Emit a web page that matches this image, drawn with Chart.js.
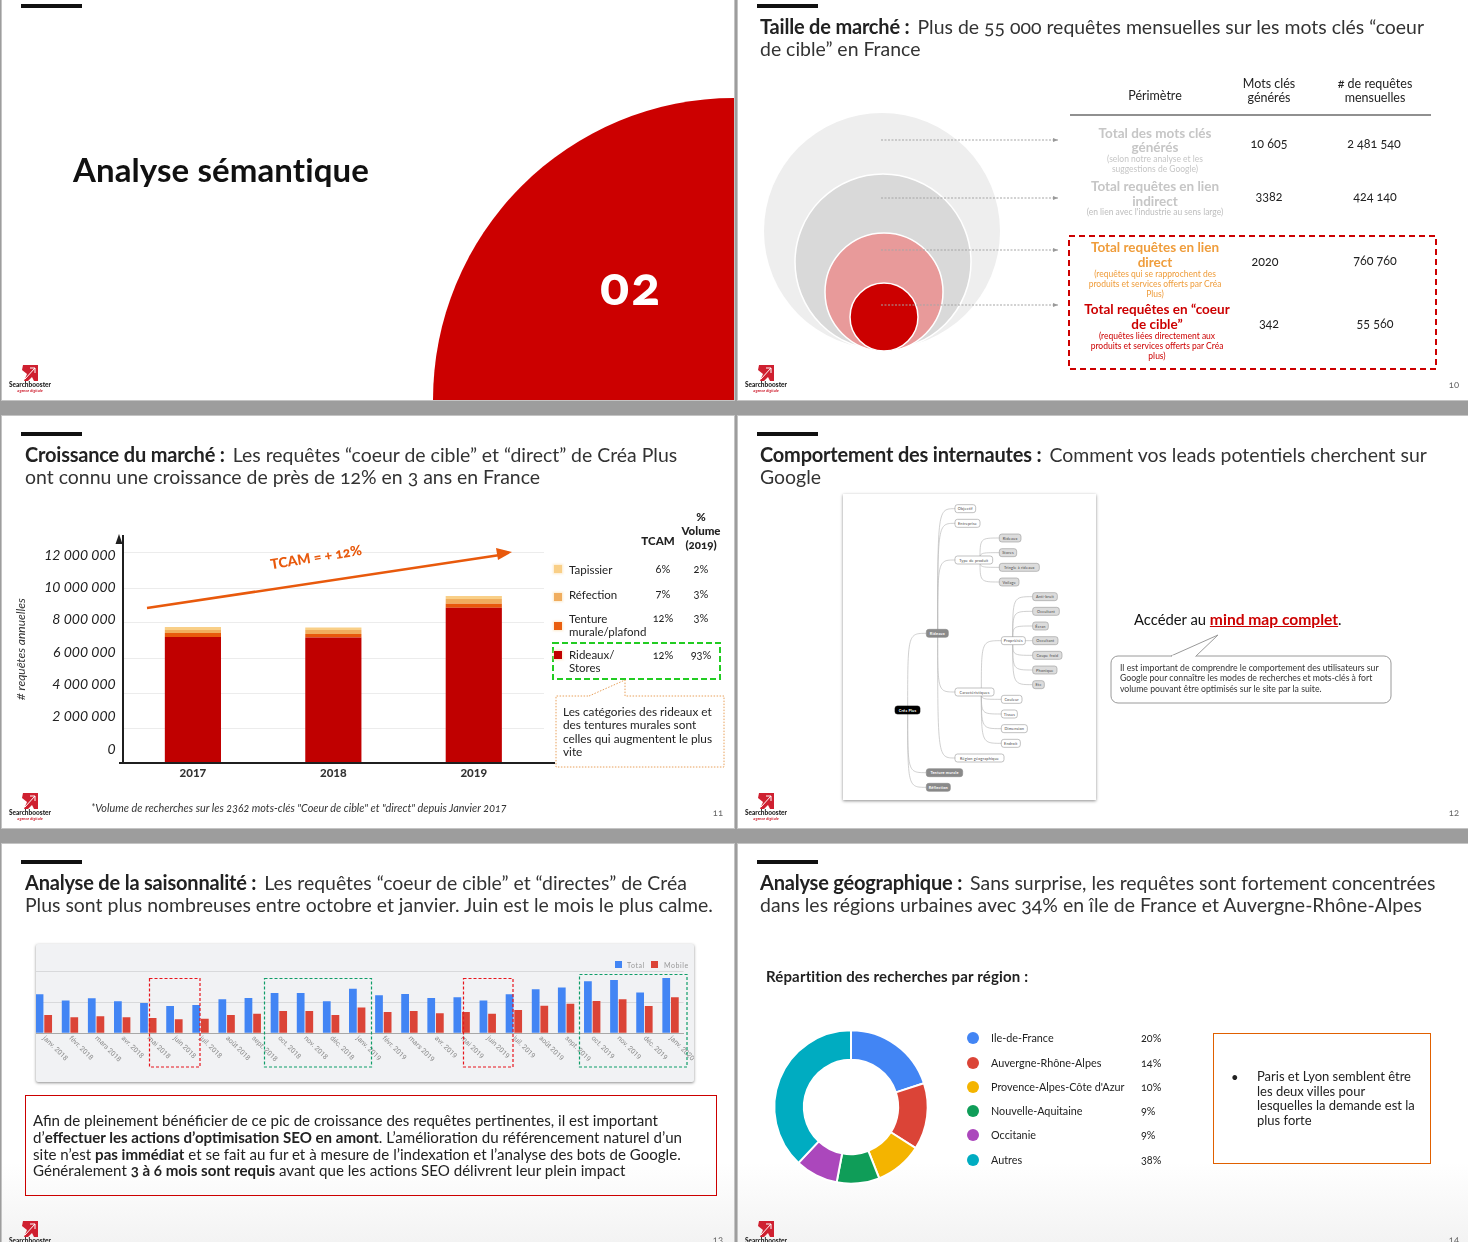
<!DOCTYPE html>
<html lang="fr"><head><meta charset="utf-8">
<script src="https://cdn.jsdelivr.net/npm/chart.js@4"></script>
<style>
html,body{margin:0;padding:0;background:#9d9d9d;}
#page{position:relative;width:1468px;height:1242px;overflow:hidden;background:#9d9d9d;font-family:Lato,sans-serif;color:#222;}
.s{position:absolute;background:#fff;box-shadow:0 0 0 1px #c4c4c4;}
.t{position:absolute;white-space:nowrap;font-feature-settings:"onum";}
.t b.h{color:#222;font-size:20px;letter-spacing:-.2px;margin-right:3px}
svg{position:absolute;left:0;top:0;}
canvas{position:absolute;}
#card{position:absolute;left:36px;top:944px;width:658px;height:138px;background:#f1f2f4;overflow:hidden;box-shadow:0 1px 3px rgba(0,0,0,.45);border-radius:2px;}
#mm{position:absolute;left:843px;top:494px;width:253px;height:306px;background:#fff;box-shadow:0 1px 3px rgba(0,0,0,.45);}
</style></head><body>
<div id="page">
<div class="s" style="left:2px;top:0;width:732px;height:400px"></div>
<div class="s" style="left:738px;top:0;width:730px;height:400px"></div>
<div class="s" style="left:2px;top:416px;width:732px;height:412px"></div>
<div class="s" style="left:738px;top:416px;width:730px;height:412px"></div>
<div class="s" style="left:2px;top:844px;width:732px;height:398px;background:linear-gradient(#fff 80%,#f3f3f3)"></div>
<div class="s" style="left:738px;top:844px;width:730px;height:398px;background:linear-gradient(#fff 80%,#f3f3f3)"></div>
<svg id="deco" width="1468" height="1242">
<defs><marker id="ah" markerWidth="6" markerHeight="6" refX="5" refY="3" orient="auto"><path d="M0 1L5 3L0 5Z" fill="#999"/></marker></defs>
<path d="M433 400A301 302 0 0 1 734 98V400Z" fill="#cc0000"/>
<circle cx="882" cy="231" r="118" fill="#eeeeee"/>
<circle cx="883" cy="262" r="88" fill="#d9d9d9" stroke="#fff" stroke-width="1.5"/>
<circle cx="884" cy="292" r="59" fill="#e89a9a" stroke="#fff" stroke-width="1.5"/>
<circle cx="884" cy="317" r="34" fill="#cc0000" stroke="#fff" stroke-width="1.5"/>
<g stroke="#a5a5a5" stroke-width="1" stroke-dasharray="2 1.5" fill="none" marker-end="url(#ah)">
<path d="M881 140H1058" marker-end="url(#ah)"/><path d="M881 198H1058" marker-end="url(#ah)"/><path d="M881 250H1058" marker-end="url(#ah)"/><path d="M881 305H1058" marker-end="url(#ah)"/>
</g>
<path d="M1070 115H1431" stroke="#222" stroke-width="1.2"/>
<rect x="1069" y="236" width="367" height="133" fill="none" stroke="#cc0000" stroke-width="2" stroke-dasharray="6 4"/>
<rect x="553" y="643" width="167" height="36" fill="none" stroke="#22cc22" stroke-width="2" stroke-dasharray="6 3"/>
<path d="M589 696L625 680V696H724V767H556V696H589" fill="none" stroke="#e8a05a" stroke-width="1" stroke-dasharray="1.5 1.5"/>
<rect x="1111" y="656" width="280" height="47" rx="7" fill="#fff" stroke="#9a9a9a"/>
<path d="M1171 656L1218 635L1196 656" fill="#fff" stroke="#9a9a9a"/><path d="M1172 656.5H1195" stroke="#fff" stroke-width="2"/>
<rect x="25.5" y="1095.5" width="691" height="100" fill="none" stroke="#cc0000"/>
<rect x="1213.5" y="1033.5" width="217" height="130" fill="none" stroke="#e06000"/>
</svg>
<div id="mm"></div>
<div id="card"><canvas id="c2" width="670" height="138" style="left:-8px;top:0;width:670px;height:138px"></canvas></div>
<canvas id="c1" width="560" height="270" style="left:10px;top:520px;width:560px;height:270px"></canvas>
<canvas id="c3" width="170" height="170" style="left:766px;top:1022px;width:170px;height:170px"></canvas>
<svg id="over" width="1468" height="1242" style="pointer-events:none">
<path d="M119 763H555" stroke="#1f1f1f" stroke-width="2"/>
<path d="M119 534L115.500 544H122.500Z" fill="#1f1f1f"/>
<path d="M147 608L500 555" stroke="#e8590c" stroke-width="2.500"/>
<path d="M512 552L496 548L498 560Z" fill="#e8590c"/>
<g fill="none" stroke-width="1.200" stroke-dasharray="3 2">
<rect x="149.500" y="978.500" width="50.500" height="88.500" stroke="#e8141c"/>
<rect x="264.500" y="978.500" width="107" height="88.500" stroke="#0f9d68"/>
<rect x="463.500" y="978.500" width="49.500" height="88.500" stroke="#e8141c"/>
<rect x="579.500" y="974.500" width="107.500" height="92.500" stroke="#0f9d68"/>
</g>
<rect x="615" y="961" width="7" height="7" fill="#4285f4"/><rect x="651" y="961" width="7" height="7" fill="#db4437"/>
</svg>
<div id="txt"></div>
</div>
<script>
// ---- chart data
const marketYears = ['2017','2018','2019'];
const rideaux   = [7200000,7170000,8870000];
const tenture   = [230000,200000,230000];
const refection = [170000,230000,270000];
const tapissier = [170000,150000,170000];
const marketTicks = [0,2000000,4000000,6000000,8000000,10000000,12000000];

const months = ['janv. 2018','févr. 2018','mars 2018','avr. 2018','mai 2018','juin 2018','juil. 2018','août 2018','sept. 2018','oct. 2018','nov. 2018','déc. 2018','janv. 2019','févr. 2019','mars 2019','avr. 2019','mai 2019','juin 2019','juil. 2019','août 2019','sept. 2019','oct. 2019','nov. 2019','déc. 2019','janv. 2020'];
const totalSearches  = [126,106,113,103,98,88,91,110,114,130,130,103,144,123,127,114,116,106,126,142,148,168,172,132,178];
const mobileSearches = [59,52,55,52,49,45,47,59,63,72,72,59,83,69,72,65,69,63,75,89,95,104,110,88,116];

const regions = ['Ile-de-France','Auvergne-Rhône-Alpes','Provence-Alpes-Côte d\'Azur','Nouvelle-Aquitaine','Occitanie','Autres'];
const regionShare = [20,14,10,9,9,38];
const regionColors = ['#4285f4','#db4437','#f4b400','#0f9d58','#ab47bc','#00acc1'];

// ---- slide text
const box = document.getElementById('txt');
function T(x,y,s,o={}){
  const d=document.createElement('div');d.className='t';
  const size=o.size||12,lh=o.lh||Math.round(size*1.15);
  d.innerHTML=s;
  const lines=s.split('<br>').length;
  d.style.cssText+=`font-size:${size}px;line-height:${lh}px;color:${o.color||'#222'};font-weight:${o.w||400};font-style:${o.i?'italic':'normal'};top:${y-lh*lines/2}px;text-align:${o.a||'left'};letter-spacing:${o.ls||0}px;`+(o.rot?`transform:rotate(${o.rot}deg);`:'');
  if(o.a==='center'){d.style.left=(x-300)+'px';d.style.width='600px';}
  else if(o.a==='right'){d.style.left=(x-600)+'px';d.style.width='600px';}
  else d.style.left=x+'px';
  box.appendChild(d);return d;
}
const grey='#c6c6c6',orange='#ef9d3c',red='#cc0000';
// black bars
[[21,4],[757,4],[21,432],[757,432],[21,860],[757,860]].forEach(p=>{const d=document.createElement('div');d.style.cssText=`position:absolute;left:${p[0]}px;top:${p[1]}px;width:61px;height:4px;background:#111`;box.appendChild(d);});
// logos
[[22,365],[758,365],[22,793],[758,793],[22,1221],[758,1221]].forEach(p=>{
  const NS='http://www.w3.org/2000/svg',g=document.createElementNS(NS,'g');
  g.setAttribute('transform',`translate(${p[0]},${p[1]})`);
  g.innerHTML='<path d="M1 0H16V16H12L10 12L6 16H2L5 9L0 5Z" fill="#cf2030"/><path d="M3 14L13 3M8 3H13V8" stroke="#fff" stroke-width="1" fill="none"/>';
  document.getElementById('over').appendChild(g);
  T(p[0]+8,p[1]+19.5,'Searchbooster',{size:6.5,w:900,a:'center',color:'#222'});
  T(p[0]+8,p[1]+25,'agence digitale',{size:4,w:700,a:'center',color:'#cf2030',i:1});
});
T(73,169,'Analyse sémantique',{size:33,w:700,color:'#111',ls:.1});
T(600,285,'02',{size:54,w:900,color:'#fff',ls:2});
[[1454,384,'10'],[718,812,'11'],[1454,812,'12'],[718,1239,'13'],[1454,1239,'14']].forEach(p=>T(p[0],p[1],p[2],{size:9.5,color:'#666',a:'center'}));

const ttl={size:19.45,lh:22,color:'#333'};
T(760,37,'<b class="h">Taille de marché :</b> Plus de 55 000 requêtes mensuelles sur les mots clés “coeur<br>de cible” en France',ttl);
T(25,465,'<b class="h">Croissance du marché :</b> Les requêtes “coeur de cible” et “direct” de Créa Plus<br>ont connu une croissance de près de 12% en 3 ans en France',ttl);
T(760,465,'<b class="h">Comportement des internautes :</b> Comment vos leads potentiels cherchent sur<br>Google',ttl);
T(25,892.5,'<b class="h">Analyse de la saisonnalité :</b> Les requêtes “coeur de cible” et “directes” de Créa<br>Plus sont plus nombreuses entre octobre et janvier. Juin est le mois le plus calme.',ttl);
T(760,892.5,'<b class="h">Analyse géographique :</b> Sans surprise, les requêtes sont fortement concentrées<br>dans les régions urbaines avec 34% en île de France et Auvergne-Rhône-Alpes',ttl);

// slide 2 table
T(1155,96,'Périmètre',{size:12.5,a:'center'});
T(1269,91,'Mots clés<br>générés',{size:12.5,lh:14,a:'center'});
T(1375,91,'# de requêtes<br>mensuelles',{size:12.5,lh:14,a:'center'});
T(1155,140,'Total des mots clés<br>générés',{size:13.5,lh:14.5,w:700,color:grey,a:'center'});
T(1155,164,'(selon notre analyse et les<br>suggestions de Google)',{size:8.5,lh:10,color:grey,a:'center'});
T(1155,194,'Total requêtes en lien<br>indirect',{size:13.5,lh:15,w:700,color:grey,a:'center'});
T(1155,212,'(en lien avec l\'industrie au sens large)',{size:8.5,color:'#bdbdbd',a:'center'});
T(1155,255,'Total requêtes en lien<br>direct',{size:13.5,lh:15,w:700,color:orange,a:'center'});
T(1155,284,'(requêtes qui se rapprochent des<br>produits et services offerts par Créa<br>Plus)',{size:8.5,lh:10,color:orange,a:'center'});
T(1157,317,'Total requêtes en “coeur<br>de cible”',{size:13.5,lh:15,w:700,color:red,a:'center'});
T(1157,346,'(requêtes liées directement aux<br>produits et services offerts par Créa<br>plus)',{size:8.5,lh:10,color:red,a:'center'});
[[1269,144,'10 605'],[1374,144,'2 481 540'],[1269,197,'3382'],[1375,197,'424 140'],[1265,262,'2020'],[1375,261,'760 760'],[1269,324,'342'],[1375,324,'55 560']].forEach(p=>T(p[0],p[1],p[2],{size:12.5,a:'center'}));

// slide 3 table and callouts
T(658,540,'TCAM',{size:11.5,w:900,a:'center'});
T(701,531,'%<br>Volume<br>(2019)',{size:11.5,lh:14,w:900,a:'center'});
[[569,569,'Tapissier',568,'6%','2%','#f9cf87',569],[569,594,'Réfection',593,'7%','3%','#f0ad5e',597],[569,624.5,'Tenture<br>murale/plafond',617,'12%','3%','#ea5e0e',626],[569,661,'Rideaux/<br>Stores',654,'12%','93%','#c00000',655]].forEach(r=>{
  T(r[0],r[1],r[2],{size:11.5,lh:13,color:'#222'});
  T(663,r[3],r[4],{size:11,a:'center'});T(701,r[3],r[5],{size:11,a:'center'});
  const q=document.createElement('div');
  q.style.cssText=`position:absolute;left:554px;top:${r[7]-4}px;width:8px;height:8px;background:${r[6]};box-shadow:0 0 2px 1px rgba(250,220,170,.6)`;
  box.appendChild(q);
});
T(563,731.5,'Les catégories des rideaux et<br>des tentures murales sont<br>celles qui augmentent le plus<br>vite',{size:11.8,lh:13.5});
T(91,808,'*Volume de recherches sur les 2362 mots-clés "Coeur de cible" et "direct" depuis Janvier 2017',{size:10.85,i:1,color:'#333'});
T(316,557,'TCAM = + 12%',{size:14,w:900,color:'#e8590c',a:'center',rot:-9});

// slide 4
T(1134,619,'Accéder au <span style="color:#cc0000;font-weight:700;font-size:15.6px;text-decoration:underline">mind map complet</span>.',{size:14.8,color:'#111'});
T(1120,678.5,'Il est important de comprendre le comportement des utilisateurs sur<br>Google pour connaître les modes de recherches et mots-clés à fort<br>volume pouvant  être optimisés sur le site par la suite.',{size:8.7,lh:10.2,color:'#333'});

// slide 5
T(33,1145.5,'Afin de pleinement bénéficier de ce pic de croissance des requêtes pertinentes, il est important<br>d’<b>effectuer les actions d’optimisation SEO en amont</b>. L’amélioration du référencement naturel d’un<br>site n’est <b>pas immédiat</b> et se fait au fur et à mesure de l’indexation et l’analyse des bots de Google.<br>Généralement <b>3 à 6 mois sont requis</b> avant que les actions SEO délivrent leur plein impact',{size:15.1,lh:16.7,color:'#222'});
T(627,964.5,'Total',{size:7,color:'#999',ls:.6});T(664,964.5,'Mobile',{size:7,color:'#999',ls:.6});

// slide 6
T(766,976,'Répartition des recherches par région :',{size:15,w:700,color:'#222',ls:.15});
const legY=[1038,1062.5,1087,1111,1135,1160];
regions.forEach((r,i)=>{
  T(991,legY[i],r,{size:10.8,color:'#222'});T(1141,legY[i],regionShare[i]+'%',{size:10.8,color:'#222'});
  const q=document.createElement('div');q.style.cssText=`position:absolute;left:967px;top:${legY[i]-6}px;width:12px;height:12px;border-radius:50%;background:${regionColors[i]}`;box.appendChild(q);
});
T(1231,1077,'•',{size:13});
T(1257,1098,'Paris et Lyon semblent être<br>les deux villes pour<br>lesquelles la demande est la<br>plus forte',{size:13,lh:14.500,color:'#222'});

// mind map (decorative image of the reference slide)
const mmNodes=[['Objectif',345,407,56,0],['Entreprise',345,420,100,0],['Type de produit',345,458,210,0],['Rideaux',478,543,144,1],['Stores',478,530,188,1],['Tringle à rideaux',478,598,232,1],['Voilage',478,537,276,1],['Rideaux',259,325,430,2],['Anti-bruit',578,652,320,1],['Occultant',578,658,364,1],['Écran',578,625,408,1],['Occultant',578,654,452,1],['Coupe froid',578,666,496,1],['Phonique',578,651,540,1],['Etc',578,613,584,1],['Propriétés',484,556,452,0],['Caractéristiques',345,462,606,0],['Couleur',484,546,628,0],['Tissus',484,532,672,0],['Dimension',484,562,716,0],['Endroit',484,541,760,0],['Région géographique',345,492,804,0],['Tenture murale',259,368,848,2],['Réflection',259,331,892,2],['Créa Plus',165,240,660,3]];
const mmLinks=[[240,660,259,430],[240,660,259,848],[240,660,259,892],[325,430,345,56],[325,430,345,100],[325,430,345,210],[325,430,345,606],[325,430,345,804],[458,210,478,144],[458,210,478,188],[458,210,478,232],[458,210,478,276],[462,606,484,452],[462,606,484,628],[462,606,484,672],[462,606,484,716],[462,606,484,760],[556,452,578,320],[556,452,578,364],[556,452,578,408],[556,452,578,452],[556,452,578,496],[556,452,578,540],[556,452,578,584]];
(function(){
  const sx=v=>840+v/3-843, sy=v=>490+v/3-494;
  let h='<svg width="253" height="306"><g fill="none" stroke="#bbb" stroke-width=".7">';
  mmLinks.forEach(l=>{const sp=(l[0]>=458?(l[0]-38):(l[0]>=325?l[0]-32:l[0]-37));
    h+=`<path d="M${sx(sp)} ${sy(l[1])}C${sx(sp)} ${sy(l[3])} ${sx(sp)} ${sy(l[3])} ${sx(l[2])} ${sy(l[3])}"/>`;});
  h+='</g>';
  mmNodes.forEach(n=>{const st=[['#fff','#999','#444'],['#dcdcdc','#999','#444'],['#8a8a8a','#888','#fff'],['#000','#000','#fff']][n[4]];
    const x=sx(n[1]),w=(n[2]-n[1])/3,y=sy(n[3]);
    h+=`<rect x="${x}" y="${y-4}" width="${w}" height="8" rx="2.500" fill="${st[0]}" stroke="${st[1]}" stroke-width=".6"/><text x="${x+w/2}" y="${y+1.500}" font-size="3.800" font-family="Lato" font-weight="${n[4]>1?700:400}" text-anchor="middle" fill="${st[2]}" letter-spacing=".2">${n[0]}</text>`;});
  h+='</svg>';
  document.getElementById('mm').innerHTML=h;
})();

// ---- charts
Chart.defaults.animation=false;
Chart.defaults.responsive=false;
Chart.defaults.devicePixelRatio=1;
Chart.defaults.font.family='Lato, sans-serif';
const fmt=v=>String(v).replace(/\B(?=(\d{3})+$)/g,' ');

new Chart(document.getElementById('c1'),{type:'bar',
 data:{labels:marketYears,datasets:[
  {label:'Rideaux/Stores',data:rideaux,backgroundColor:'#c00000'},
  {label:'Tenture murale/plafond',data:tenture,backgroundColor:'#e8590c'},
  {label:'Réfection',data:refection,backgroundColor:'#f0ad5e'},
  {label:'Tapissier',data:tapissier,backgroundColor:'#f9cf87'}]},
 options:{layout:{padding:{top:15.5,right:26,left:0,bottom:0}},
  barPercentage:.4,categoryPercentage:1,
  plugins:{legend:{display:false},tooltip:{enabled:false}},
  scales:{
   x:{stacked:true,grid:{display:false,drawTicks:false},border:{display:false},
      ticks:{padding:3,color:'#333',font:{size:11.5,weight:'900'}},afterFit:s=>{s.height=27;}},
   y:{stacked:true,min:0,max:13000000,
      afterBuildTicks:s=>{s.ticks=marketTicks.map(v=>({value:v}));},
      // the reference's tick labels sit slightly tighter than its gridlines
      beforeUpdate:s=>{const f=s._computeLabelItems;s._computeLabelItems=function(a){const it=f.call(this,a);it.forEach((o,i)=>{const v=this.ticks[i].value;o.options.translation[1]+=1-8*(1-v/12000000);});return it;};},
      grid:{color:'#ececec',drawTicks:false},border:{color:'#1f1f1f',width:2},
      title:{display:true,text:'# requêtes annuelles',color:'#333',font:{size:12,style:'italic'},padding:{top:4,bottom:0}},
      ticks:{padding:7,color:'#222',font:{size:14,style:'italic'},callback:v=>fmt(v)},
      afterFit:s=>{s.width=112.7;}}
  }}});

new Chart(document.getElementById('c2'),{type:'bar',
 data:{labels:months,datasets:[
  {label:'Total',data:totalSearches,backgroundColor:'#4285f4'},
  {label:'Mobile',data:mobileSearches,backgroundColor:'#db4437'}]},
 options:{layout:{padding:{top:11.8,right:14.4,left:2.8,bottom:0}},
  barPercentage:.9,categoryPercentage:.66,
  plugins:{legend:{display:false},tooltip:{enabled:false}},
  scales:{
   x:{grid:{display:false,drawTicks:false},border:{color:'#a8a8a8',width:1},
      beforeUpdate:s=>{s._getXAxisLabelAlignment=()=>'left';},
      ticks:{autoSkip:false,minRotation:-45,maxRotation:-45,padding:1,color:'#8c8c8c',font:{size:7,family:'Roboto'}},
      afterFit:s=>{s.height=48.7;s.paddingLeft=0;s.paddingRight=0;}},
   y:{min:0,max:250,ticks:{display:false,stepSize:100,includeBounds:false},grid:{color:'#d8d9db',drawTicks:false},border:{display:false},
      afterFit:s=>{s.width=0;}}
  }}});

new Chart(document.getElementById('c3'),{type:'doughnut',
 data:{labels:regions,datasets:[{data:regionShare,backgroundColor:regionColors,borderColor:'#fff',borderWidth:2}]},
 options:{cutout:'61.500%',layout:{padding:7.3},plugins:{legend:{display:false},tooltip:{enabled:false}}}});
</script>
</body></html>
